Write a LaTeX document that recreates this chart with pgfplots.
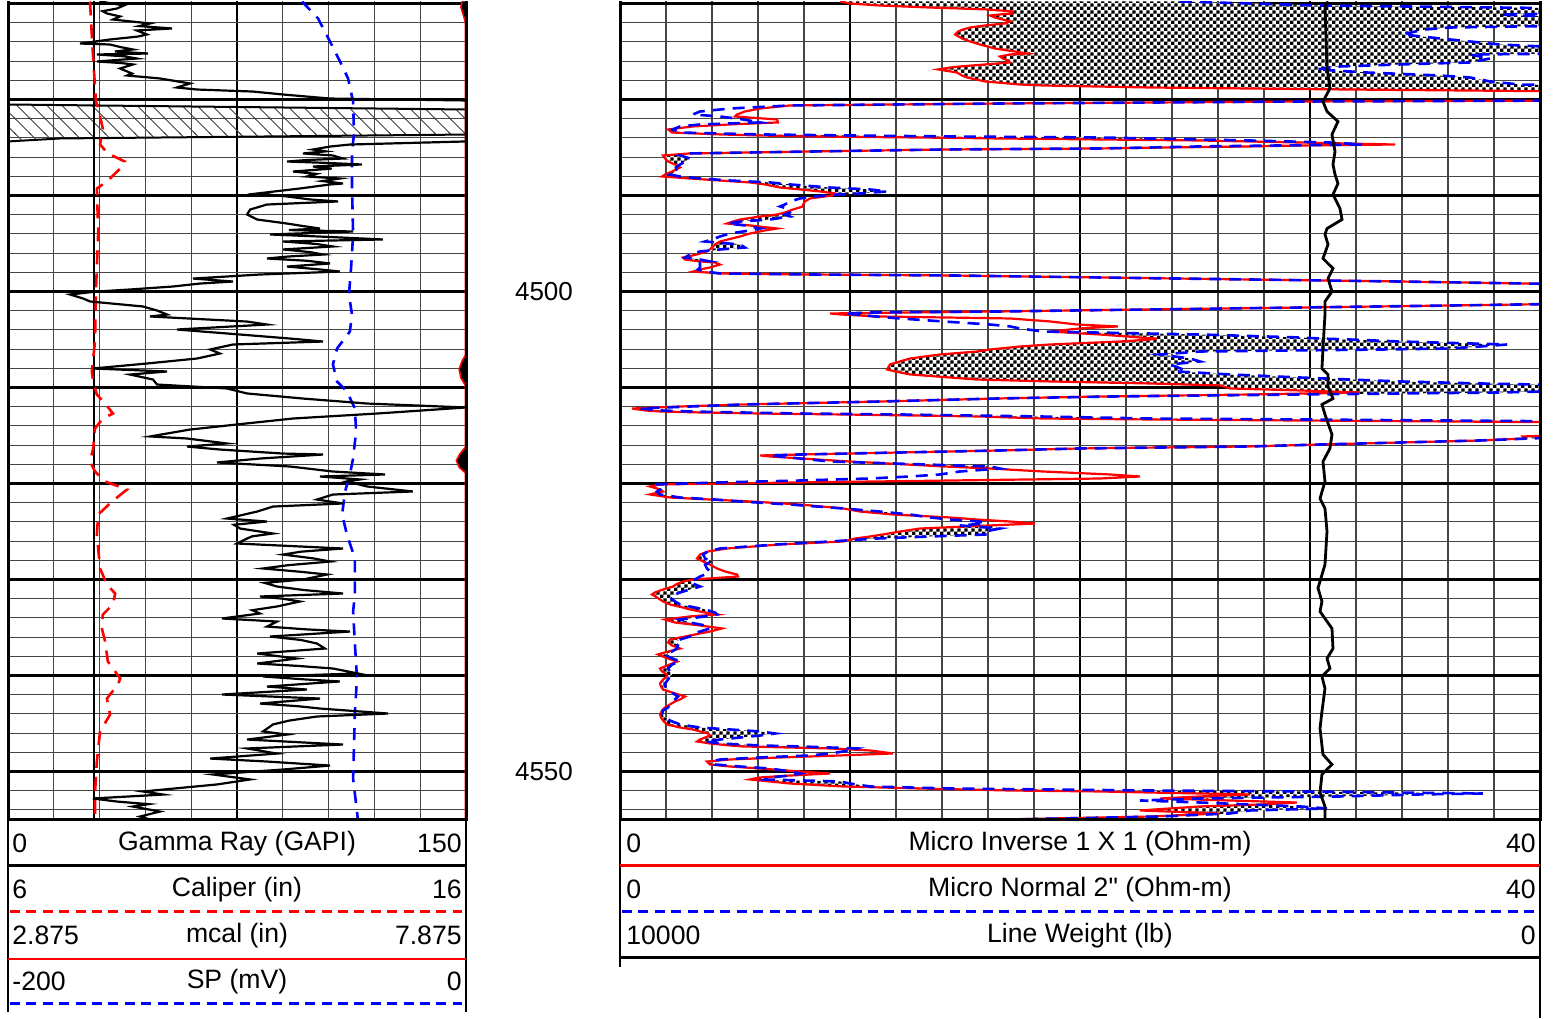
\documentclass[border=0pt]{standalone}
\usepackage{fontspec}
\setmainfont{Liberation Sans}
\newfontfamily\plainsans{Liberation Sans}[Ligatures=TeXOff]
\usepackage{pgfplots}
\pgfplotsset{compat=1.18}
\usepackage{pgfplotstable}
\usepgfplotslibrary{fillbetween}
\usetikzlibrary{patterns}

\pgfdeclarepatternformonly{finecheck}{\pgfpointorigin}{\pgfpoint{3.4pt}{3.4pt}}{\pgfpoint{3.4pt}{3.4pt}}{%
  \pgfpathrectangle{\pgfpointorigin}{\pgfpoint{1.7pt}{1.7pt}}%
  \pgfpathrectangle{\pgfpoint{1.7pt}{1.7pt}}{\pgfpoint{1.7pt}{1.7pt}}%
  \pgfusepath{fill}}
\pgfdeclarepatternformonly{hatchNW}{\pgfpoint{-1pt}{-1pt}}{\pgfpoint{8.5pt}{8.5pt}}{\pgfpoint{7.5pt}{7.5pt}}{%
  \pgfsetlinewidth{0.4pt}\pgfpathmoveto{\pgfpoint{-0.5pt}{8pt}}\pgfpathlineto{\pgfpoint{8pt}{-0.5pt}}\pgfusepath{stroke}}

\definecolor{minorgrid}{RGB}{70,70,70}

\pgfplotstableread{
depth gr
4469.79 30.1
4470.20 38.0
4470.52 35.7
4470.80 31.0
4471.04 32.4
4471.35 36.7
4471.67 34.4
4472.08 46.5
4472.35 43.0
4472.60 53.7
4472.81 42.2
4473.23 45.5
4473.44 42.6
4473.75 33.4
4474.17 23.6
4474.27 33.4
4474.55 37.0
4474.79 40.9
4475.00 35.0
4475.21 45.9
4475.31 29.1
4475.50 38.0
4475.73 42.2
4476.04 29.1
4476.20 37.0
4476.35 40.9
4476.77 36.7
4477.29 40.6
4477.50 39.0
4477.81 49.8
4478.33 59.6
4478.75 55.3
4478.96 61.9
4479.17 80.2
4479.48 90.1
4479.90 105.5
4480.10 150
4484.37 150
4484.69 112.0
4484.90 105.5
4485.21 99.9
4485.40 104.0
4485.62 96.6
4485.83 106.4
4486.15 109.7
4486.30 98.0
4486.46 91.4
4486.60 104.0
4486.77 115.9
4486.98 99.9
4487.20 106.0
4487.50 93.3
4487.75 101.0
4488.02 97.9
4488.23 108.7
4488.50 103.0
4488.75 109.7
4488.85 105.5
4489.27 95.6
4489.79 81.6
4490.10 91.4
4490.41 98.9
4490.62 108.1
4490.94 84.8
4491.46 79.3
4491.98 78.3
4492.50 81.6
4492.92 91.4
4493.20 97.0
4493.44 102.2
4493.60 92.0
4493.75 113.0
4494.06 85.8
4494.30 104.0
4494.58 122.8
4494.79 90.1
4495.05 101.0
4495.31 106.4
4495.62 90.1
4495.90 99.0
4496.15 103.2
4496.35 92.0
4496.56 84.8
4496.80 98.0
4497.08 105.5
4497.40 91.4
4497.70 102.0
4497.92 108.7
4498.23 82.5
4498.65 60.6
4498.96 73.7
4499.17 62.9
4499.48 54.0
4499.79 40.0
4500.00 29.1
4500.31 20.3
4500.73 24.6
4501.04 26.9
4501.56 44.2
4502.00 49.0
4502.40 52.1
4502.60 46.5
4503.13 78.3
4503.44 84.8
4503.96 55.3
4504.48 76.0
4504.90 92.4
4505.21 103.2
4505.52 73.7
4506.04 66.2
4506.46 69.4
4506.98 61.9
4507.50 45.5
4508.02 27.8
4508.33 52.1
4508.65 40.0
4509.17 47.5
4509.69 48.8
4510.10 71.7
4510.62 78.3
4511.15 96.6
4511.67 117.6
4512.08 150
4512.71 120.9
4513.23 93.3
4513.85 75.0
4514.38 59.6
4515.10 46.5
4515.31 58.6
4515.83 71.7
4516.15 58.6
4516.46 69.4
4516.88 90.1
4516.98 103.2
4517.40 82.5
4517.81 68.4
4518.23 92.4
4518.75 106.4
4519.06 123.5
4519.27 102.2
4519.58 115.3
4519.79 111.0
4520.31 117.6
4520.83 132.6
4521.15 106.4
4521.67 101.2
4522.08 109.7
4522.40 86.8
4522.92 81.6
4523.65 71.7
4523.96 84.8
4524.30 74.0
4524.69 76.0
4525.21 86.8
4525.50 80.0
4525.73 78.3
4526.25 75.0
4526.77 109.7
4527.10 96.0
4527.40 90.1
4527.80 100.0
4528.13 105.5
4528.50 92.0
4528.85 83.5
4529.20 96.0
4529.48 104.5
4530.00 96.6
4530.35 84.0
4530.73 88.1
4531.10 97.0
4531.46 109.7
4531.77 82.5
4532.00 90.0
4532.29 95.6
4532.81 88.1
4533.20 80.0
4533.54 82.5
4534.06 70.1
4534.38 88.1
4534.90 84.8
4535.20 98.0
4535.42 112.0
4535.94 85.8
4536.30 96.0
4536.67 101.2
4537.19 103.8
4537.71 81.6
4538.23 94.6
4538.75 81.6
4539.00 95.0
4539.27 106.4
4539.79 114.6
4540.10 83.5
4540.40 97.0
4540.62 108.7
4541.15 84.8
4541.46 97.9
4541.98 70.1
4542.40 102.2
4542.92 82.5
4543.20 95.0
4543.44 102.2
4543.96 124.5
4544.27 101.2
4544.70 92.0
4545.10 86.8
4545.83 83.5
4546.15 91.4
4546.67 78.3
4547.19 109.7
4547.60 78.3
4548.13 88.1
4548.65 66.2
4548.96 84.8
4549.38 105.5
4549.79 90.1
4550.31 67.1
4550.83 79.3
4551.35 68.4
4552.08 44.2
4552.40 50.8
4552.81 27.8
4553.13 35.7
4553.40 46.0
4553.65 40.9
4554.17 49.8
4554.69 43.2
4555.00 46.5
}\grtab

\pgfplotstableread{
depth cal
4469.79 7.79
4475.00 7.85
4480.20 7.92
4480.94 7.97
4483.02 8.07
4484.69 8.01
4485.62 8.18
4486.46 8.55
4487.19 8.45
4488.54 8.16
4489.27 7.94
4493.75 7.97
4500.00 7.92
4505.21 7.90
4508.33 7.83
4509.38 7.86
4510.73 7.94
4511.67 8.12
4512.71 8.29
4513.23 8.07
4514.27 7.90
4516.35 7.86
4517.71 7.79
4518.75 7.90
4519.79 8.12
4520.62 8.60
4521.88 8.27
4523.23 7.97
4525.31 7.94
4528.85 8.01
4530.52 8.16
4531.46 8.34
4532.60 8.29
4533.65 8.07
4535.10 8.05
4536.46 8.12
4538.54 8.18
4540.31 8.45
4540.94 8.40
4542.40 8.16
4544.06 8.23
4545.83 8.01
4548.96 7.94
4552.19 7.90
4555.00 7.90
}\caltab

\pgfplotstableread{
depth sp
4469.79 -71.6
4471.56 -64.6
4473.96 -59.4
4476.04 -55.0
4477.81 -51.5
4480.21 -49.3
4483.65 -48.9
4485.42 -49.8
4488.85 -49.8
4494.06 -49.3
4497.60 -50.2
4500.31 -51.1
4502.40 -49.8
4504.17 -50.7
4505.94 -56.3
4507.60 -58.1
4509.38 -56.3
4510.42 -52.0
4512.19 -48.5
4514.58 -48.0
4517.40 -49.3
4519.06 -50.7
4520.83 -52.8
4523.23 -54.1
4525.31 -52.0
4527.81 -48.5
4531.56 -48.5
4533.33 -49.3
4536.77 -48.5
4540.31 -47.6
4543.75 -48.5
4550.73 -49.3
4555.00 -47.2
}\sptab

\pgfplotstableread{
depth mcal
4469.79 7.83
4470.40 7.82
4471.00 7.84
4472.00 7.87
4506.60 7.87
4507.30 7.83
4508.10 7.80
4509.00 7.82
4509.80 7.87
4516.20 7.87
4516.90 7.81
4517.60 7.77
4518.30 7.80
4518.90 7.87
4555.00 7.87
}\mcaltab

\pgfplotstableread{
depth lw
4469.79 2304
4470.31 2337
4476.77 2315
4478.85 2283
4480.21 2359
4481.25 2315
4482.29 2196
4483.65 2261
4485.42 2228
4486.77 2250
4487.81 2228
4488.75 2196
4489.90 2250
4491.35 2174
4492.50 2152
4493.44 2315
4494.06 2337
4495.10 2304
4496.56 2359
4497.60 2250
4498.65 2304
4500.00 2261
4501.04 2337
4502.40 2337
4505.94 2359
4508.02 2370
4508.65 2304
4509.90 2304
4511.15 2250
4511.77 2370
4512.81 2337
4514.90 2261
4516.35 2283
4517.71 2359
4519.79 2337
4521.56 2391
4522.60 2337
4524.98 2315
4528.44 2337
4530.90 2413
4532.29 2370
4533.33 2391
4535.10 2261
4537.19 2250
4538.23 2315
4539.27 2283
4540.10 2370
4541.35 2337
4543.75 2370
4545.52 2391
4548.23 2359
4549.27 2261
4550.31 2370
4552.19 2391
4553.65 2337
4555.00 2337
}\lwtab

\pgfplotstableread{
depth inv nor
4469.79 9.57 24.35
4470.00 10.00 27.39
4470.21 11.30 30.43
4470.42 13.48 38.26
4470.52 14.78 42
4470.62 15.96 42
4470.83 17.09 42
4471.04 17.09 42
4471.14 16.52 38.26
4471.25 16.09 39.13
4471.46 16.30 42
4471.87 16.96 42
4472.08 16.74 42
4472.29 15.87 42
4472.50 15.22 36.09
4472.71 14.91 35.00
4472.92 14.70 34.57
4473.23 14.57 34.04
4473.64 14.87 35.65
4473.96 15.22 36.96
4474.27 15.65 38.26
4474.69 16.30 42
4475.00 17.17 42
4475.21 17.70 42
4475.31 16.96 36.96
4475.52 16.52 37.39
4475.73 16.65 37.83
4475.94 16.87 37.39
4476.14 16.96 36.96
4476.35 15.87 33.91
4476.56 14.78 31.30
4476.67 14.35 30.87
4476.87 13.83 30.30
4477.19 14.65 32.48
4477.50 14.87 35.65
4477.71 15.09 36.96
4478.12 15.87 37.83
4478.44 17.39 39.13
4478.54 18.39 42
4478.75 23.04 42
4478.96 31.74 42
4479.17 42 42
4480.10 42 42
4480.21 29.57 29.57
4480.42 16.52 16.52
4480.62 7.39 7.39
4480.94 6.09 4.78
4481.25 5.43 3.48
4481.56 5.09 3.17
4481.77 5.00 4.35
4482.08 6.83 5.35
4482.39 6.87 6.09
4482.60 4.78 3.48
4482.81 3.17 2.61
4483.12 2.09 2.30
4483.44 2.26 2.61
4483.64 4.35 6.09
4483.75 6.09 10.00
4483.85 8.26 14.35
4483.96 13.04 20.87
4484.06 16.52 23.04
4484.27 25.22 27.39
4484.48 29.57 30.87
4484.69 33.70 32.30
4484.79 29.57 28.70
4484.89 27.39 25.22
4485.00 23.78 23.04
4485.10 20.87 20.87
4485.21 14.04 14.04
4485.42 8.26 8.26
4485.62 3.04 3.04
4485.83 1.87 2.61
4486.14 1.96 3.04
4486.46 2.09 2.83
4486.77 2.39 2.61
4487.08 2.61 2.43
4487.50 2.26 2.48
4487.81 1.96 2.17
4488.02 1.83 2.61
4488.23 3.04 3.48
4488.44 4.35 4.78
4488.64 5.65 6.52
4488.85 6.30 7.39
4489.17 6.96 9.13
4489.37 7.83 10.87
4489.58 8.70 11.61
4489.79 9.35 10.43
4489.89 9.57 9.57
4490.10 8.91 8.48
4490.31 8.26 7.83
4490.62 8.04 7.39
4490.94 7.96 7.17
4491.14 7.96 6.96
4491.46 7.52 7.39
4491.77 7.17 7.39
4491.98 6.83 7.17
4492.19 6.09 7.39
4492.50 5.22 6.52
4492.71 4.91 5.22
4492.92 4.65 4.70
4493.12 5.65 5.43
4493.44 6.83 6.09
4493.64 6.30 5.65
4493.96 5.65 4.78
4494.27 5.22 4.35
4494.58 4.70 4.00
4494.79 4.35 3.70
4495.10 4.13 5.22
4495.42 4.00 5.43
4495.62 3.91 4.35
4495.83 3.78 3.48
4496.14 3.35 3.04
4496.46 2.74 2.83
4496.67 2.83 3.48
4496.87 3.48 3.91
4496.98 4.13 3.48
4497.19 4.35 3.48
4497.50 3.91 3.48
4497.71 3.48 3.39
4497.92 3.17 3.70
4498.12 4.35 4.35
4498.23 8.26 8.26
4498.33 14.35 14.35
4498.54 20.87 20.87
4498.75 27.39 27.39
4498.96 33.91 33.91
4499.27 42 42
4501.25 42 42
4501.46 36.09 36.09
4501.67 29.57 29.57
4501.87 23.04 23.04
4502.08 16.52 16.52
4502.19 12.17 10.87
4502.29 9.13 9.78
4502.39 9.57 10.22
4502.60 11.17 11.09
4502.81 16.96 12.17
4503.12 18.70 14.04
4503.44 19.87 16.09
4503.64 21.65 16.96
4503.85 20.00 17.39
4504.17 18.70 18.39
4504.48 20.87 25.22
4504.79 22.61 29.57
4504.90 23.35 30.43
4505.00 23.04 31.74
4505.21 21.74 33.91
4505.52 18.70 38.57
4505.73 17.39 37.39
4505.94 16.52 36.09
4506.04 16.09 33.17
4506.25 15.52 25.22
4506.56 13.91 23.48
4506.98 12.61 24.78
4507.29 12.17 25.22
4507.60 11.74 23.91
4508.12 11.61 24.48
4508.33 11.96 24.22
4508.64 12.61 26.52
4508.96 14.35 29.57
4509.17 15.52 31.74
4509.37 18.70 33.91
4509.58 23.04 37.39
4509.79 26.09 42
4510.10 26.52 42
4510.31 29.57 42
4510.52 32.17 38.26
4510.73 27.39 29.57
4510.94 20.87 21.30
4511.14 16.52 16.52
4511.46 11.30 11.30
4511.77 5.35 5.35
4511.98 2.61 3.04
4512.19 0.52 0.87
4512.39 1.09 1.74
4512.50 1.74 3.04
4512.60 3.48 5.22
4512.71 6.09 7.83
4512.81 9.70 12.17
4513.02 15.65 18.26
4513.23 18.39 23.04
4513.33 23.04 29.57
4513.44 29.57 36.09
4513.54 36.09 42
4513.64 42 42
4514.89 42 42
4515.10 39.26 42
4515.31 39.35 39.57
4515.52 37.39 37.39
4515.73 33.91 33.91
4515.94 30.43 30.43
4516.14 27.39 27.39
4516.35 20.00 20.00
4516.56 16.52 16.52
4516.77 12.17 12.17
4516.98 7.83 7.83
4517.08 6.09 6.52
4517.19 6.52 6.96
4517.71 10.00 9.13
4518.23 14.13 16.09
4518.44 16.09 16.52
4518.75 18.39 14.78
4519.06 21.30 13.91
4519.27 22.61 12.61
4519.48 20.87 10.87
4519.69 14.35 7.83
4519.89 7.83 4.35
4520.10 1.74 1.52
4520.31 1.30 1.52
4520.62 1.74 1.74
4520.83 1.87 1.61
4521.14 1.30 1.74
4521.46 2.17 2.61
4521.67 3.91 4.13
4521.87 5.65 5.22
4522.19 7.83 7.39
4522.60 9.70 9.70
4522.92 10.43 11.30
4523.23 11.87 12.61
4523.54 14.35 13.48
4523.75 15.52 14.35
4523.96 16.96 15.65
4524.17 18.04 15.87
4524.37 16.09 14.78
4524.69 13.04 16.52
4525.00 12.17 15.87
4525.31 11.43 15.96
4525.52 10.87 13.48
4525.73 10.22 11.17
4526.04 9.70 9.13
4526.35 6.96 6.83
4526.77 4.65 4.35
4527.08 3.83 3.83
4527.39 3.48 3.61
4527.81 3.35 3.70
4528.12 3.61 4.00
4528.44 3.91 3.70
4528.85 4.22 3.78
4529.17 4.57 3.91
4529.48 5.09 3.70
4529.69 5.13 3.48
4530.00 3.17 3.26
4530.21 2.74 3.04
4530.52 2.43 3.26
4530.73 2.30 3.48
4531.04 1.87 3.04
4531.35 1.52 2.61
4531.56 1.39 2.39
4531.87 1.61 2.17
4532.29 1.87 2.39
4532.60 2.17 2.61
4532.92 2.74 3.26
4533.12 3.04 3.70
4533.44 3.70 4.13
4533.64 4.22 4.22
4533.85 3.04 3.70
4534.17 1.96 2.61
4534.48 2.39 3.04
4534.79 3.48 3.70
4535.10 4.43 3.91
4535.42 3.91 3.48
4535.62 3.48 3.17
4535.94 2.83 3.04
4536.25 2.17 2.61
4536.56 2.09 2.39
4536.87 2.26 2.52
4537.19 2.61 2.48
4537.50 2.09 2.26
4537.81 1.65 1.96
4538.12 1.96 2.17
4538.54 2.48 2.61
4538.85 2.17 2.26
4539.27 1.74 2.09
4539.58 1.83 2.17
4539.89 2.04 2.26
4540.10 2.04 2.17
4540.42 1.87 2.09
4540.83 1.74 1.96
4541.14 1.78 1.96
4541.46 1.87 2.09
4541.77 2.26 2.26
4542.19 2.83 2.52
4542.50 2.61 2.39
4542.71 2.39 2.30
4543.02 2.17 2.17
4543.33 1.96 2.09
4543.64 1.83 1.87
4544.06 1.74 1.83
4544.37 1.78 2.00
4544.69 1.87 2.17
4545.10 2.04 2.61
4545.42 2.61 3.48
4545.62 3.17 4.78
4545.83 3.48 6.09
4546.04 3.83 6.74
4546.25 3.91 6.09
4546.46 3.70 5.22
4546.67 3.48 4.35
4546.87 3.35 3.70
4547.08 3.91 4.35
4547.29 4.78 6.09
4547.39 5.35 7.83
4547.60 9.13 10.30
4547.81 10.87 10.00
4548.12 11.87 9.13
4548.33 9.57 8.26
4548.54 6.96 6.09
4548.75 4.78 4.35
4548.96 3.78 4.00
4549.27 3.91 4.13
4549.48 4.78 5.22
4549.69 6.09 6.52
4550.00 7.83 7.39
4550.21 9.13 7.83
4550.42 7.39 7.39
4550.62 6.09 6.52
4550.83 5.65 6.30
4551.04 6.52 9.57
4551.25 7.39 10.00
4551.56 9.70 10.87
4551.77 13.04 14.35
4551.98 16.96 23.04
4552.08 20.87 29.57
4552.19 23.04 33.91
4552.29 25.22 37.52
4552.39 27.39 34.78
4552.60 25.22 31.30
4552.81 23.48 25.22
4553.02 26.52 22.61
4553.23 29.43 25.22
4553.44 27.83 27.39
4553.64 25.22 29.57
4553.85 23.91 30.74
4554.06 22.61 27.39
4554.37 26.09 26.52
4554.69 23.04 23.48
4555.00 16.52 16.96
}\microtab

\pgfplotsset{
  trk/.style={scale only axis, anchor=south west, height=409pt,
    ymin=4469.79, ymax=4555.0, y dir=reverse,
    axis line style={draw=none}, major tick length=0pt, minor tick length=0pt,
    xticklabels={}, yticklabels={}, tick label style={inner sep=0pt, outer sep=0pt},
    no markers},
  trkL/.style={trk, at={(4pt,99pt)}, width=229pt},
  trkR/.style={trk, at={(310pt,99pt)}, width=460pt},
  nog/.style={xtick=\empty, ytick=\empty},
  gridded/.style={grid=both,
    major grid style={black, line width=1.2pt},
    minor grid style={minorgrid, line width=0.55pt},
    ytick={4470,4480,...,4550}, minor ytick={4470,4472,...,4554}},
}

\begin{document}
\begin{tikzpicture}
\path (0,0) rectangle (777pt,508pt);

% ---------- Left track: grid + hatch (Gamma Ray scale)
\begin{axis}[trkL, gridded, xmin=0, xmax=150, xtick={75}, minor xtick={0,15,...,150}]
\addplot[pattern=hatchNW, pattern color=black!75, draw=black, line width=1pt]
  coordinates {(0,4480.52) (150,4481.04) (150,4483.65) (17,4484.06) (0,4484.37)} -- cycle;
\end{axis}

% SP
\begin{axis}[trkL, nog, xmin=-200, xmax=0]
\addplot[blue, line width=1.3pt, dash pattern=on 6pt off 4.5pt] table[x=sp, y=depth]{\sptab};
\end{axis}

% Caliper + bit size
\begin{axis}[trkL, nog, xmin=6, xmax=16]
\addplot[black, line width=0.8pt] coordinates {(7.875,4469.79) (7.875,4555)};
\addplot[red, line width=1.3pt, dash pattern=on 7pt off 4.5pt] table[x=cal, y=depth]{\caltab};
\end{axis}

% mcal
\begin{axis}[trkL, nog, xmin=2.875, xmax=7.875]
\addplot[fill=black, draw=none] coordinates {(7.875,4469.79) (7.83,4469.79) (7.82,4470.4) (7.84,4471.0) (7.875,4472.0)} -- cycle;
\addplot[fill=black, draw=none] coordinates {(7.875,4506.6) (7.83,4507.3) (7.80,4508.1) (7.82,4509.0) (7.875,4509.8)} -- cycle;
\addplot[fill=black, draw=none] coordinates {(7.875,4516.2) (7.81,4516.9) (7.77,4517.6) (7.80,4518.3) (7.875,4518.9)} -- cycle;
\addplot[red, line width=0.8pt] table[x=mcal, y=depth]{\mcaltab};
\end{axis}

% Gamma Ray
\begin{axis}[trkL, nog, xmin=0, xmax=150]
\addplot[black, line width=1.1pt] table[x=gr, y=depth]{\grtab};
\end{axis}

% ---------- Right track: grid + micro resistivity
\begin{axis}[trkR, gridded, xmin=0, xmax=40, xtick={10,20,30}, minor xtick={0,2,...,40}]
\addplot[draw=none, forget plot, name path=inv] table[x=inv, y=depth]{\microtab};
\addplot[draw=none, forget plot, name path=hi] table[x expr={max(\thisrow{inv},\thisrow{nor})}, y=depth]{\microtab};
\addplot[fill=white, draw=none] fill between[of=inv and hi];
\addplot[pattern=finecheck, pattern color=black, draw=none] fill between[of=inv and hi];
\addplot[red, line width=1.1pt] table[x=inv, y=depth]{\microtab};
\addplot[blue, line width=1.3pt, dash pattern=on 6pt off 4pt] table[x=nor, y=depth]{\microtab};
\end{axis}

% Line weight
\begin{axis}[trkR, nog, xmin=0, xmax=10000, x dir=reverse]
\addplot[black, line width=1.4pt] table[x=lw, y=depth]{\lwtab};
\end{axis}

% ---------- Track borders
\draw[line width=1.5pt] (4pt,508pt) -- (4pt,99pt) -- (233pt,99pt) -- (233pt,508pt);
\draw[line width=1.5pt] (310pt,508pt) -- (310pt,99pt) -- (770pt,99pt) -- (770pt,508pt);

% ---------- Depth labels
\node[font=\fontsize{13}{15}\selectfont] at (272pt,363pt) {4500};
\node[font=\fontsize{13}{15}\selectfont] at (272pt,123pt) {4550};

% ---------- Left header
\draw[line width=1pt] (4pt,99pt) -- (4pt,3pt);
\draw[line width=1pt] (233pt,99pt) -- (233pt,3pt);
\draw[black, line width=1.5pt] (4pt,76pt) -- (233pt,76pt);
\draw[red, line width=1.3pt, dash pattern=on 5pt off 3.2pt] (5pt,53pt) -- (231pt,53pt);
\draw[red, line width=1pt] (4pt,29.5pt) -- (233pt,29.5pt);
\draw[blue, line width=1.4pt, dash pattern=on 5pt off 3.2pt] (5pt,7pt) -- (231pt,7pt);
\begin{scope}[every node/.style={font=\fontsize{13.3}{15}\selectfont, inner sep=0pt}]
\node[anchor=west] at (6pt,87pt) {0};
\node at (118.5pt,87pt) {Gamma Ray (GAPI)};
\node[anchor=east] at (231pt,87pt) {150};
\node[anchor=west] at (6pt,64pt) {6};
\node at (118.5pt,64pt) {Caliper (in)};
\node[anchor=east] at (231pt,64pt) {16};
\node[anchor=west] at (6pt,41pt) {2.875};
\node at (118.5pt,41pt) {mcal (in)};
\node[anchor=east] at (231pt,41pt) {7.875};
\node[anchor=west] at (6pt,18pt) {-200};
\node at (118.5pt,18pt) {SP (mV)};
\node[anchor=east] at (231pt,18pt) {0};

% ---------- Right header
\node[anchor=west] at (313pt,87pt) {0};
\node at (540pt,87pt) {Micro Inverse 1 X 1 (Ohm-m)};
\node[anchor=east] at (768pt,87pt) {40};
\node[anchor=west] at (313pt,64pt) {0};
\node at (540pt,64pt) {\plainsans Micro Normal 2" (Ohm-m)};
\node[anchor=east] at (768pt,64pt) {40};
\node[anchor=west] at (313pt,41pt) {10000};
\node at (540pt,41pt) {Line Weight (lb)};
\node[anchor=east] at (768pt,41pt) {0};
\end{scope}
\draw[line width=0.8pt] (310pt,99pt) -- (310pt,25.5pt);
\draw[line width=1pt] (770pt,99pt) -- (770pt,0pt);
\draw[red, line width=1.4pt] (310pt,76pt) -- (770pt,76pt);
\draw[blue, line width=1.4pt, dash pattern=on 5pt off 3.2pt] (311pt,53pt) -- (768pt,53pt);
\draw[black, line width=1.5pt] (310pt,30pt) -- (770pt,30pt);
\end{tikzpicture}
\end{document}
